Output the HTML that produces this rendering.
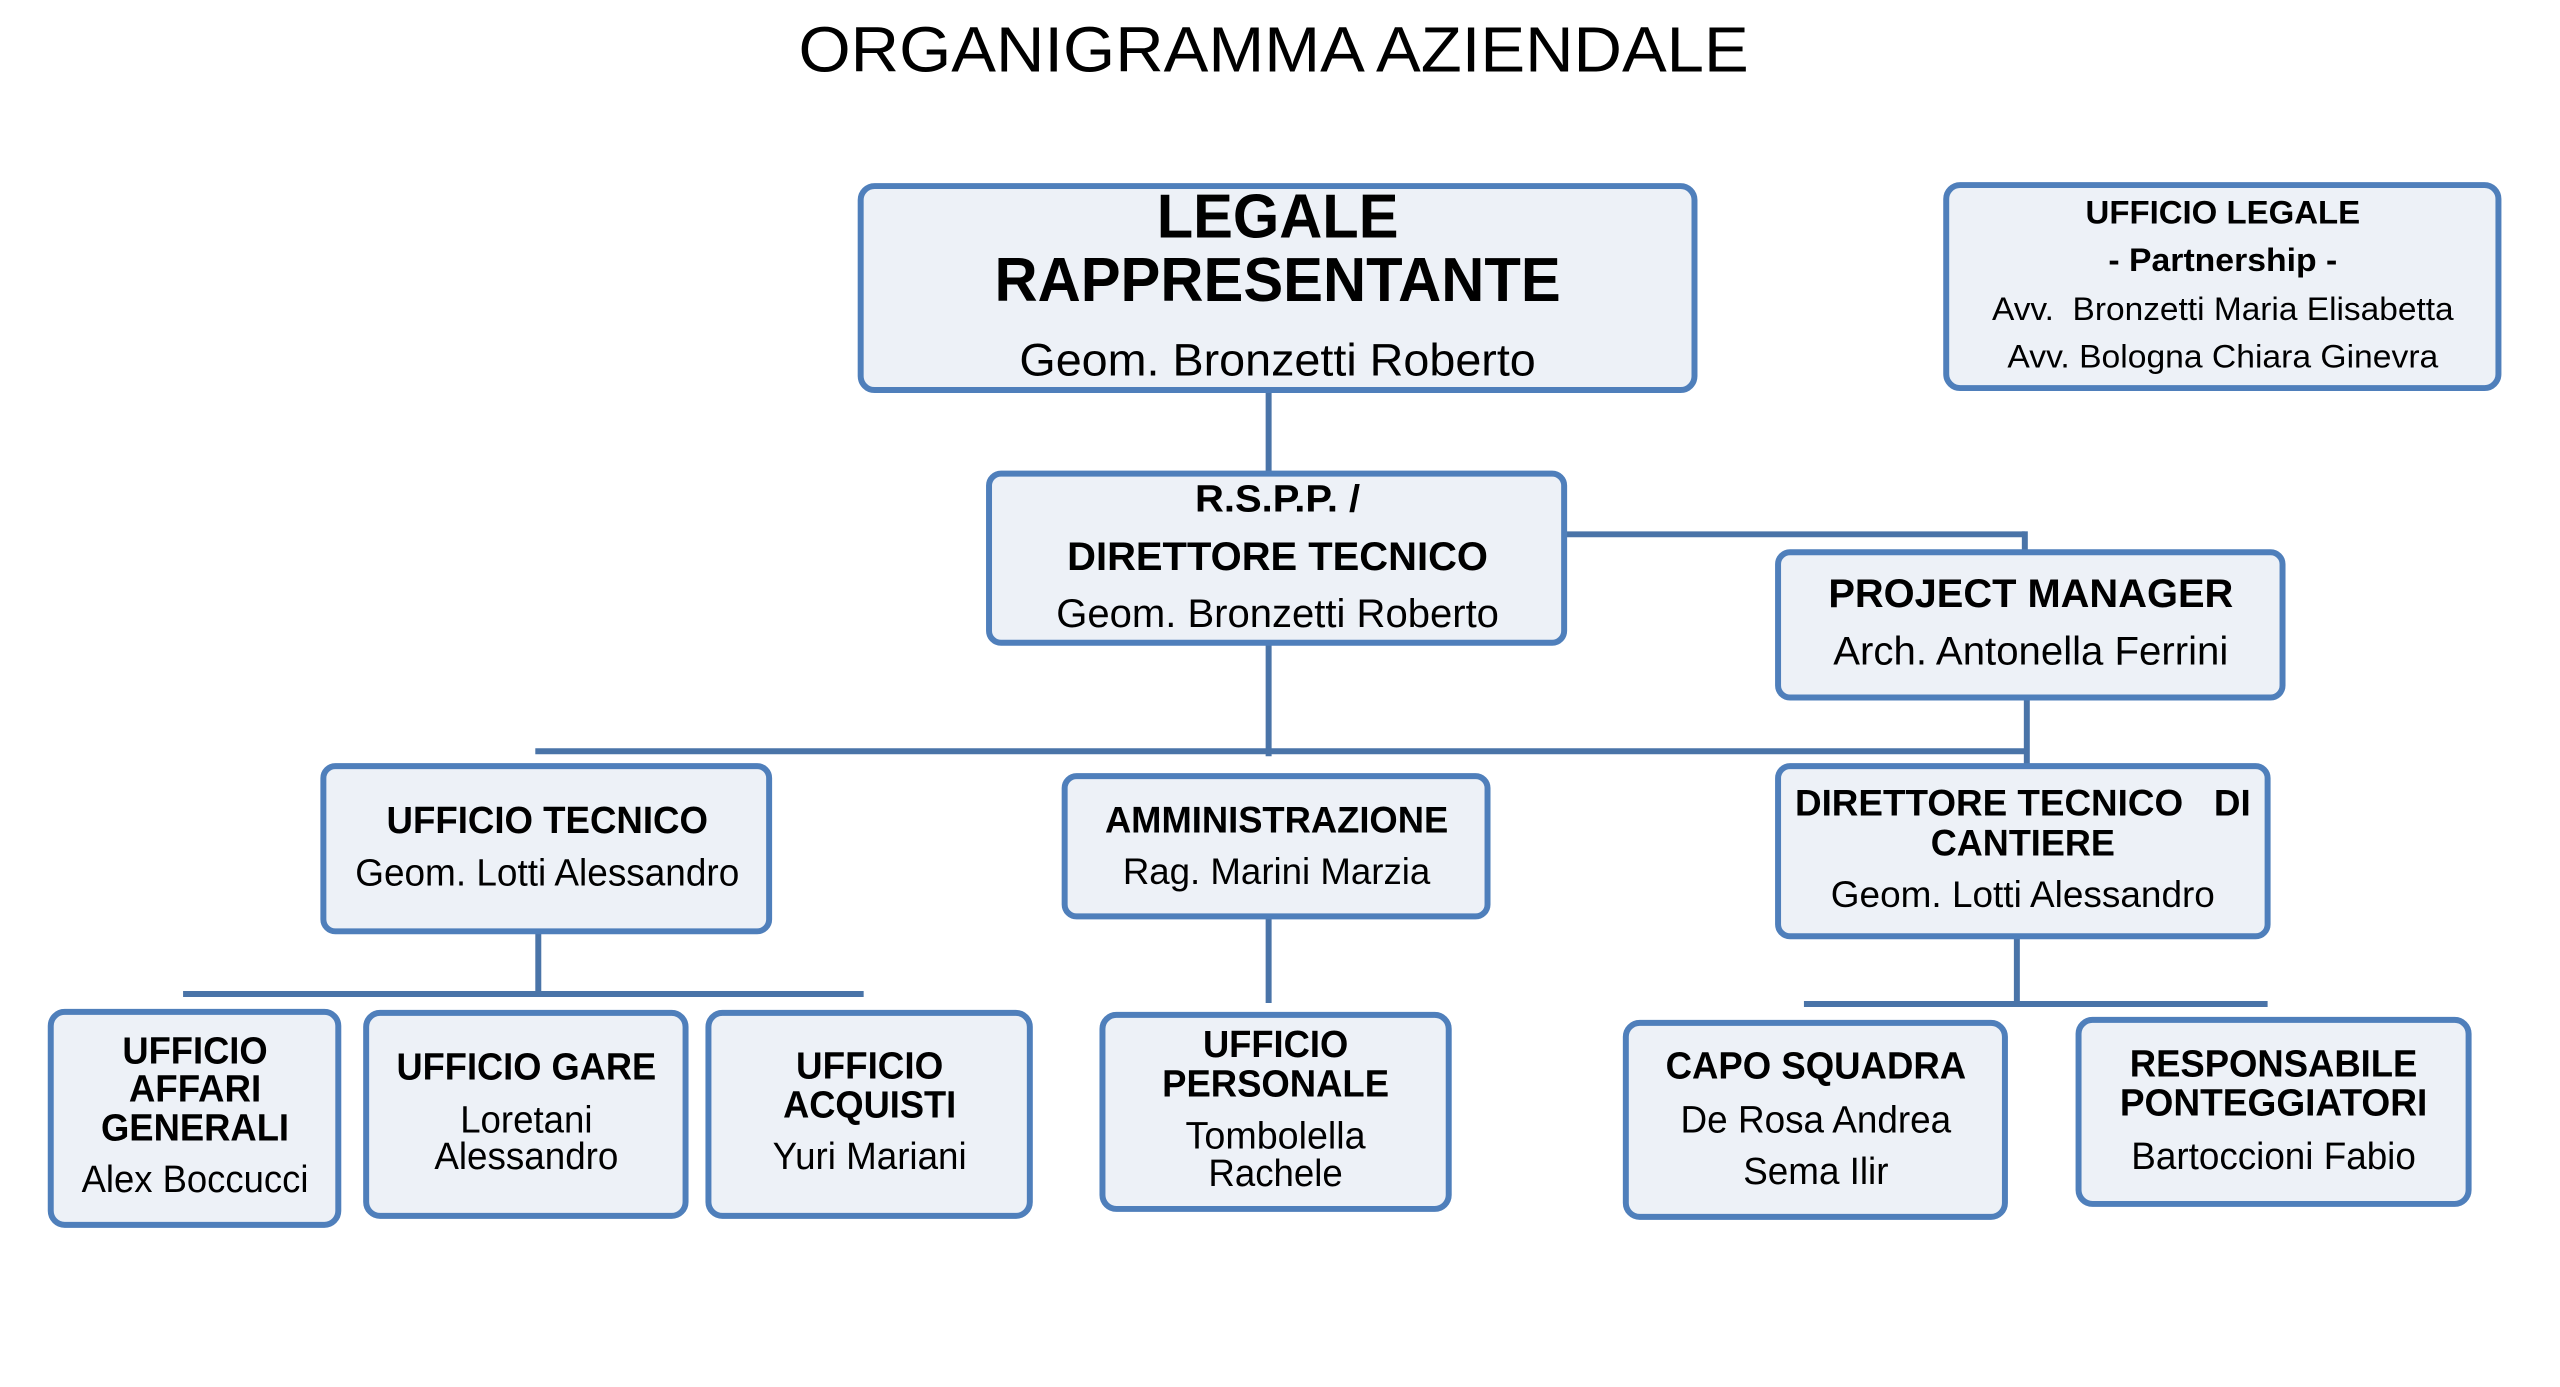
<!DOCTYPE html>
<html><head><meta charset="utf-8"><style>
html,body{margin:0;padding:0;background:#fff;width:2560px;height:1387px;overflow:hidden}
svg{display:block}
text{font-family:"Liberation Sans",Arial,sans-serif;fill:#000;text-anchor:middle;dominant-baseline:central}
.b{font-weight:bold}
rect.box{fill:#edf1f7;stroke:#4f7fbb;stroke-width:6}
line{stroke:#4a74a8;stroke-width:6}
</style></head><body>
<svg width="2560" height="1387" viewBox="0 0 2560 1387">
<g transform="scale(0.995)">
<text x="1280" y="50" font-size="64" textLength="955" lengthAdjust="spacingAndGlyphs">ORGANIGRAMMA AZIENDALE</text>

<line x1="1275" y1="394" x2="1275" y2="476"/>
<line x1="1572" y1="537" x2="2035" y2="537"/>
<line x1="2035" y1="534" x2="2035" y2="555"/>
<line x1="1275" y1="648" x2="1275" y2="760"/>
<line x1="538" y1="755" x2="2035" y2="755"/>
<line x1="2037" y1="702" x2="2037" y2="770"/>
<line x1="541" y1="937" x2="541" y2="1001"/>
<line x1="184" y1="999" x2="868" y2="999"/>
<line x1="1275" y1="922" x2="1275" y2="1008"/>
<line x1="2027" y1="942" x2="2027" y2="1009"/>
<line x1="1813" y1="1009" x2="2279" y2="1009"/>

<rect class="box" x="865" y="187" width="838" height="205" rx="14"/>
<rect class="box" x="1956" y="186" width="555" height="204" rx="14"/>
<rect class="box" x="994" y="476" width="578" height="170" rx="12"/>
<rect class="box" x="1787" y="555" width="507" height="146" rx="12"/>
<rect class="box" x="325" y="770" width="448" height="166" rx="12"/>
<rect class="box" x="1070" y="780" width="425" height="141" rx="12"/>
<rect class="box" x="1787" y="770" width="492" height="171" rx="12"/>
<rect class="box" x="51" y="1017" width="289" height="214" rx="14"/>
<rect class="box" x="368" y="1018" width="321" height="204" rx="14"/>
<rect class="box" x="712" y="1018" width="323" height="204" rx="14"/>
<rect class="box" x="1108" y="1020" width="348" height="195" rx="14"/>
<rect class="box" x="1634" y="1028" width="381" height="195" rx="14"/>
<rect class="box" x="2089" y="1025" width="392" height="185" rx="14"/>

<text class="b" x="1284" y="218" font-size="62" textLength="243" lengthAdjust="spacingAndGlyphs">LEGALE</text>
<text class="b" x="1284" y="282" font-size="62" textLength="569" lengthAdjust="spacingAndGlyphs">RAPPRESENTANTE</text>
<text x="1284" y="362" font-size="46" textLength="519" lengthAdjust="spacingAndGlyphs">Geom. Bronzetti Roberto</text>

<text class="b" x="2234" y="213" font-size="33" textLength="276" lengthAdjust="spacingAndGlyphs">UFFICIO LEGALE</text>
<text class="b" x="2234" y="261" font-size="33" textLength="230" lengthAdjust="spacingAndGlyphs">- Partnership -</text>
<text x="2234" y="310" font-size="33" textLength="464" lengthAdjust="spacingAndGlyphs" xml:space="preserve">Avv.  Bronzetti Maria Elisabetta</text>
<text x="2234" y="358" font-size="33" textLength="433" lengthAdjust="spacingAndGlyphs">Avv. Bologna Chiara Ginevra</text>

<text class="b" x="1284" y="502" font-size="38" textLength="166" lengthAdjust="spacingAndGlyphs">R.S.P.P. /</text>
<text class="b" x="1284" y="560" font-size="40" textLength="423" lengthAdjust="spacingAndGlyphs">DIRETTORE TECNICO</text>
<text x="1284" y="617" font-size="40" textLength="445" lengthAdjust="spacingAndGlyphs">Geom. Bronzetti Roberto</text>

<text class="b" x="2041" y="597" font-size="40" textLength="407" lengthAdjust="spacingAndGlyphs">PROJECT MANAGER</text>
<text x="2041" y="655" font-size="40" textLength="397" lengthAdjust="spacingAndGlyphs">Arch. Antonella Ferrini</text>

<text class="b" x="550" y="825" font-size="38" textLength="323" lengthAdjust="spacingAndGlyphs">UFFICIO TECNICO</text>
<text x="550" y="878" font-size="38" textLength="386" lengthAdjust="spacingAndGlyphs">Geom. Lotti Alessandro</text>

<text class="b" x="1283" y="824" font-size="37" textLength="345" lengthAdjust="spacingAndGlyphs">AMMINISTRAZIONE</text>
<text x="1283" y="876" font-size="37" textLength="309" lengthAdjust="spacingAndGlyphs">Rag. Marini Marzia</text>

<text class="b" x="2033" y="807" font-size="37" textLength="458" lengthAdjust="spacingAndGlyphs" xml:space="preserve">DIRETTORE TECNICO   DI</text>
<text class="b" x="2033" y="847" font-size="37" textLength="185" lengthAdjust="spacingAndGlyphs">CANTIERE</text>
<text x="2033" y="899" font-size="37" textLength="386" lengthAdjust="spacingAndGlyphs">Geom. Lotti Alessandro</text>

<text class="b" x="196" y="1057" font-size="38" textLength="146" lengthAdjust="spacingAndGlyphs">UFFICIO</text>
<text class="b" x="196" y="1095" font-size="38" textLength="133" lengthAdjust="spacingAndGlyphs">AFFARI</text>
<text class="b" x="196" y="1134" font-size="38" textLength="189" lengthAdjust="spacingAndGlyphs">GENERALI</text>
<text x="196" y="1186" font-size="38" textLength="228" lengthAdjust="spacingAndGlyphs">Alex Boccucci</text>

<text class="b" x="529" y="1073" font-size="38" textLength="261" lengthAdjust="spacingAndGlyphs">UFFICIO GARE</text>
<text x="529" y="1126" font-size="38" textLength="133" lengthAdjust="spacingAndGlyphs">Loretani</text>
<text x="529" y="1163" font-size="38" textLength="185" lengthAdjust="spacingAndGlyphs">Alessandro</text>

<text class="b" x="874" y="1072" font-size="38" textLength="148" lengthAdjust="spacingAndGlyphs">UFFICIO</text>
<text class="b" x="874" y="1111" font-size="38" textLength="174" lengthAdjust="spacingAndGlyphs">ACQUISTI</text>
<text x="874" y="1163" font-size="38" textLength="195" lengthAdjust="spacingAndGlyphs">Yuri Mariani</text>

<text class="b" x="1282" y="1050" font-size="38" textLength="146" lengthAdjust="spacingAndGlyphs">UFFICIO</text>
<text class="b" x="1282" y="1090" font-size="38" textLength="228" lengthAdjust="spacingAndGlyphs">PERSONALE</text>
<text x="1282" y="1142" font-size="38" textLength="181" lengthAdjust="spacingAndGlyphs">Tombolella</text>
<text x="1282" y="1180" font-size="38" textLength="135" lengthAdjust="spacingAndGlyphs">Rachele</text>

<text class="b" x="1825" y="1072" font-size="38" textLength="302" lengthAdjust="spacingAndGlyphs">CAPO SQUADRA</text>
<text x="1825" y="1126" font-size="38" textLength="272" lengthAdjust="spacingAndGlyphs">De Rosa Andrea</text>
<text x="1825" y="1178" font-size="38" textLength="146" lengthAdjust="spacingAndGlyphs">Sema Ilir</text>

<text class="b" x="2285" y="1070" font-size="38" textLength="289" lengthAdjust="spacingAndGlyphs">RESPONSABILE</text>
<text class="b" x="2285" y="1109" font-size="38" textLength="309" lengthAdjust="spacingAndGlyphs">PONTEGGIATORI</text>
<text x="2285" y="1163" font-size="38" textLength="286" lengthAdjust="spacingAndGlyphs">Bartoccioni Fabio</text>
</g>
</svg>
</body></html>
